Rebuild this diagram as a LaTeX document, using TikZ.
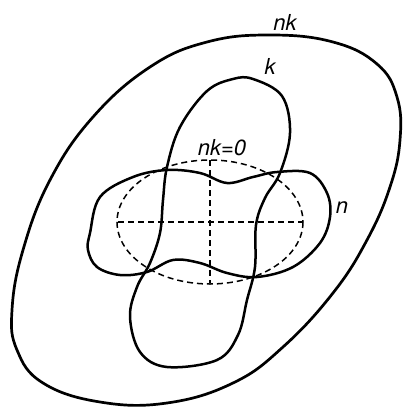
\documentclass[tikz,border=0pt]{standalone}
\usepackage{fontspec}
\setsansfont{TeX Gyre Heros}
\usetikzlibrary{positioning}
\tikzset{
    % closed curves
    outercurve/.style={line width=2.7pt, line join=round},
    levelcurve/.style={line width=2.5pt, line join=round},
    % dashed guides
    guide/.style={line width=1.5pt, dash pattern=on 6pt off 4pt},
    % labels
    curvelabel/.style={font=\sffamily\itshape\fontsize{22}{24}\selectfont, inner sep=1pt},
}
\begin{document}
\begin{tikzpicture}[x=1pt,y=-1pt]
  \useasboundingbox (0,0) rectangle (404,408);
  % outer curve nk
  \draw[outercurve] plot[smooth cycle, tension=0.7] coordinates {
    (270,35) (333,42) (377,64) (397,97) (400,140) (390,187) (367,240)
    (333,293) (283,347) (233,383) (167,403) (100,402) (43,383) (17,350)
    (12,310) (23,250) (50,180) (93,117) (150,67) (207,42)};
  % curve k
  \draw[levelcurve] plot[smooth cycle, tension=0.6] coordinates {
    (253,79) (282,96) (290,133) (280,173) (265,198) (256,225) (255,267)
    (247,300) (238,335) (217,360) (167,367) (140,352) (130,317) (137,287)
    (150,263) (160,233) (163,200) (167,167) (180,127) (207,91) (233,79)};
  % curve n
  \draw[levelcurve] plot[smooth cycle, tension=0.6] coordinates {
    (90,233) (100,197) (133,177) (167,170) (200,173) (227,183) (253,177)
    (277,172) (310,173) (327,193) (330,217) (320,243) (293,267) (257,277)
    (227,273) (200,263) (173,260) (147,272) (120,275) (97,267) (88,250)};
  % dashed ellipse and axes
  \coordinate (c) at (210,222);
  \draw[guide] (c) ellipse [x radius=93, y radius=62];
  \coordinate (w) at (118,222);
  \coordinate (e) at (302,222);
  \coordinate (t) at (210,160);
  \coordinate (b) at (210,283);
  \draw[guide] (w) -- (e);
  \draw[guide] (t) -- (b);
  % labels
  \node[curvelabel] (lnk) at (285,22) {nk};
  \node[curvelabel] (lk) at (270,66) {k};
  \node[curvelabel] (lzero) at (222,148) {nk=0};
  \node[curvelabel] (ln) at (342,208) {n};
\end{tikzpicture}
\end{document}
